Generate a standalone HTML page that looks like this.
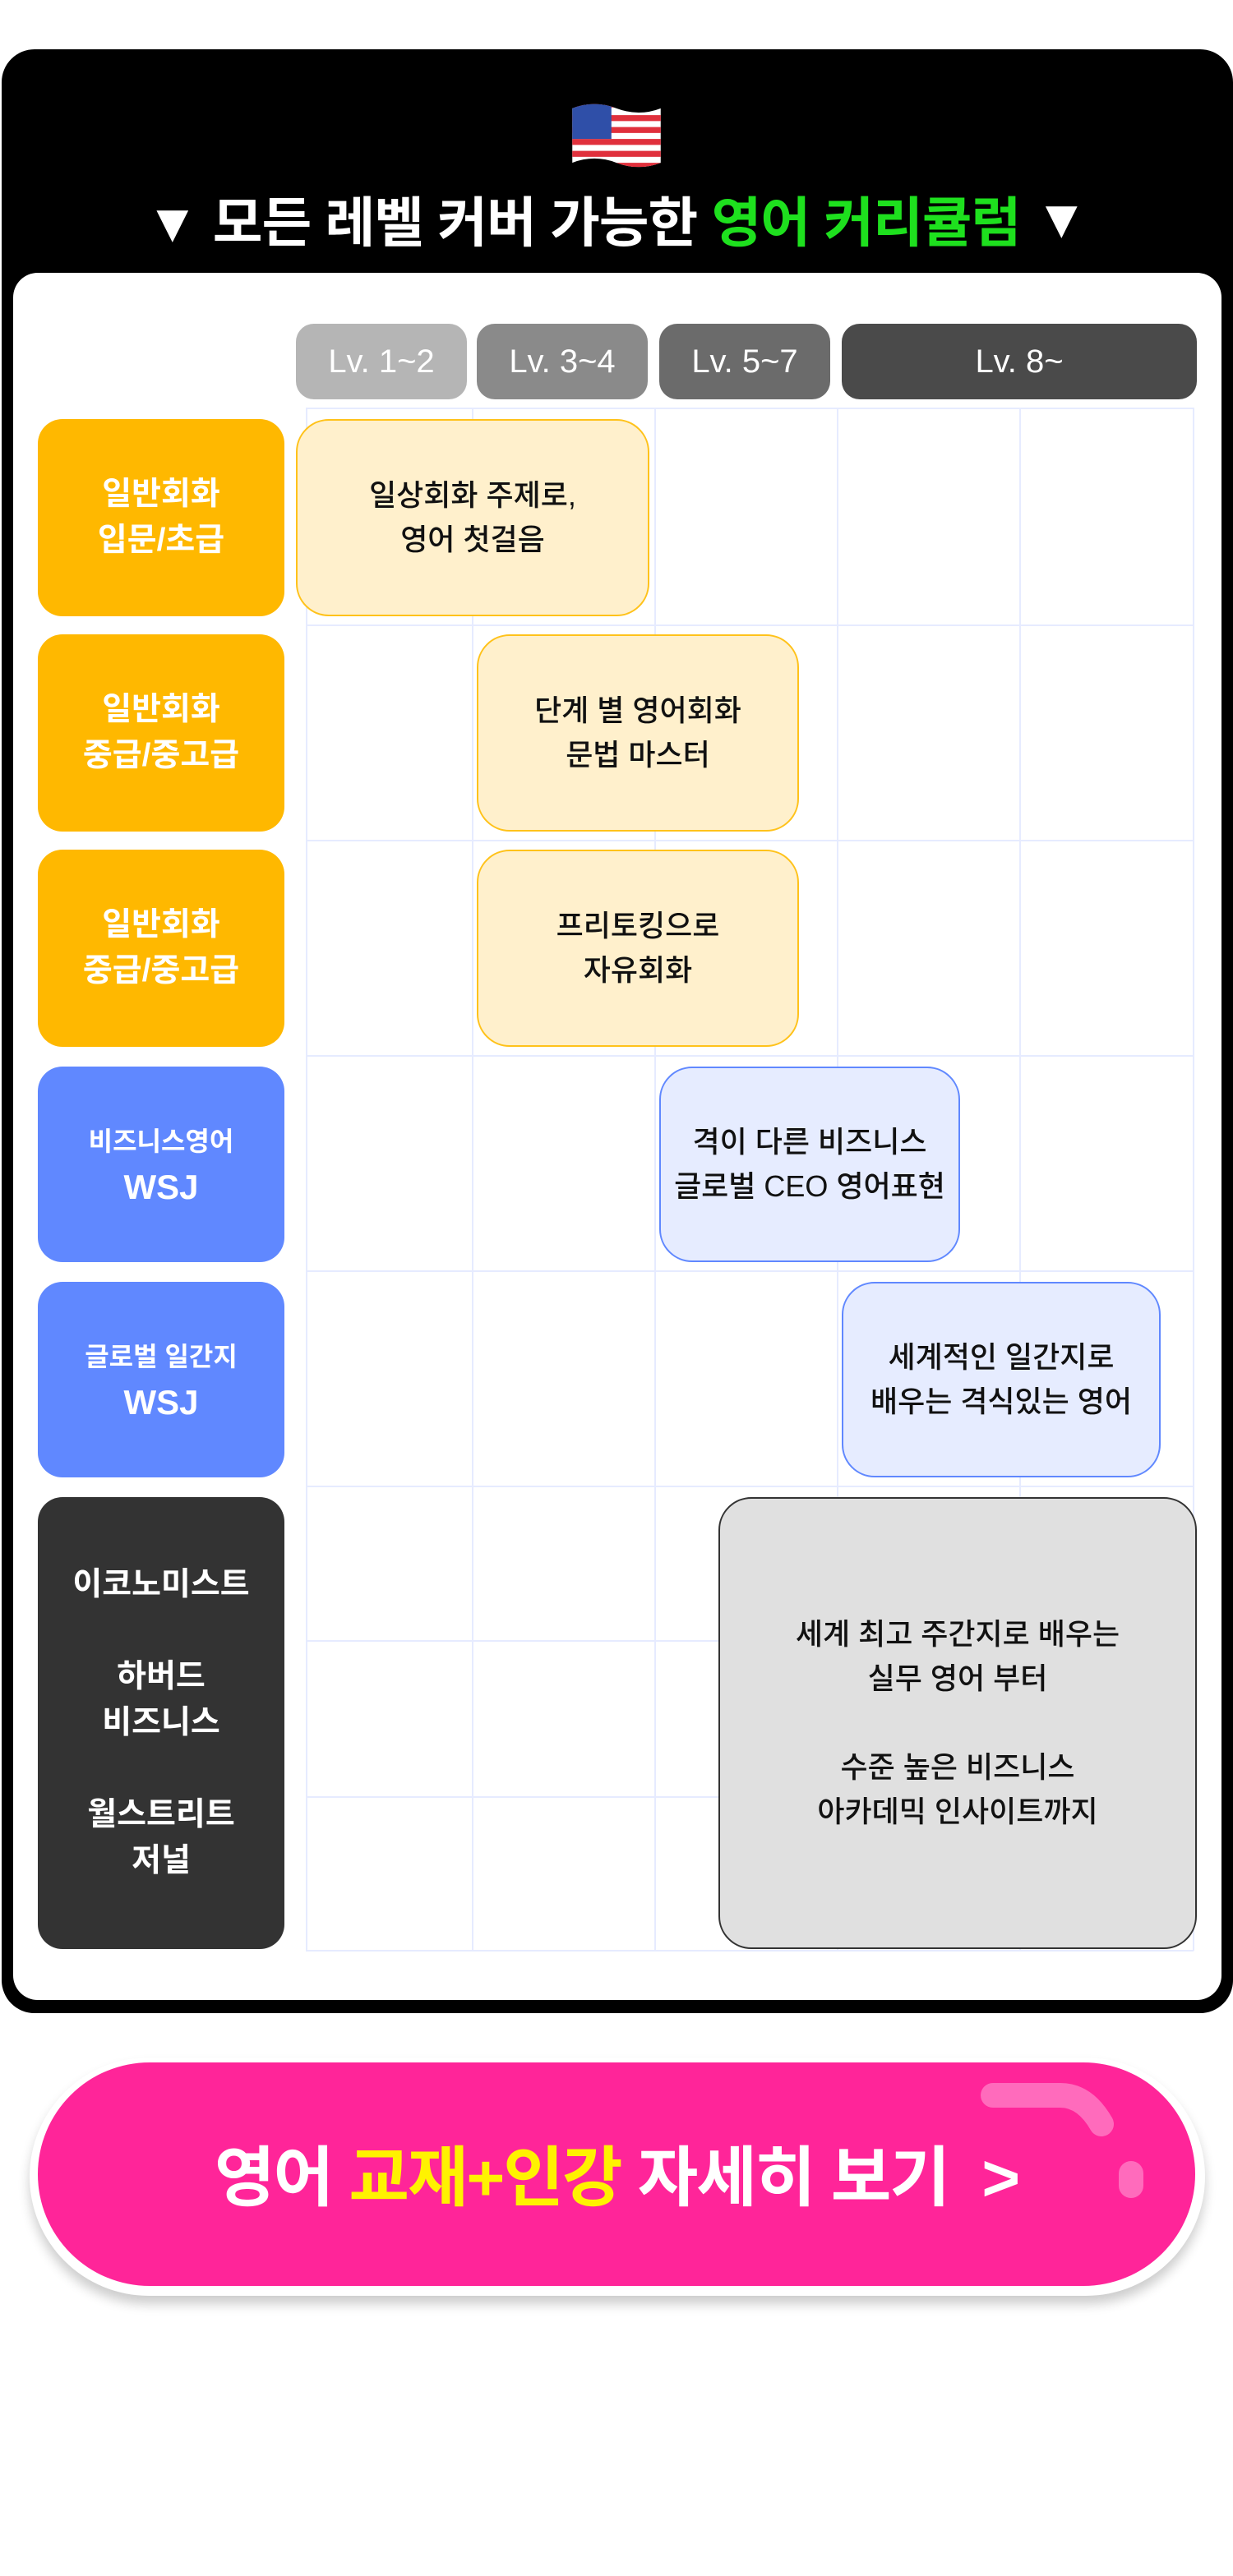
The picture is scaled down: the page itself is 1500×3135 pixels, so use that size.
<!DOCTYPE html>
<html><head><meta charset="utf-8"><style>
*{margin:0;padding:0;box-sizing:border-box}
body{width:1500px;height:3135px;background:#fff;position:relative;overflow:hidden;font-family:"Liberation Sans","Noto Sans CJK KR",sans-serif}
.a{position:absolute}
.c{display:flex;align-items:center;justify-content:center;text-align:center;flex-direction:column}
.pill{top:394px;height:92px;border-radius:22px;color:#fff;font-size:40px}
.lab{left:46px;width:300px;border-radius:30px;color:#fff;font-weight:bold;font-size:39px;line-height:56px}
.box{border-radius:40px;font-size:36px;line-height:54px;color:#111;font-weight:500}
.y{background:#FFF0CC;border:2px solid #FFC21A}
.b{background:#E6ECFF;border:2px solid #6088FF}
.vl{top:496px;height:1878px;width:2px;background:#E6EBFF}
.hl{left:372px;width:1080px;height:2px;background:#E6EBFF}
</style></head><body>
<div class="a" style="left:2px;top:60px;width:1498px;height:2390px;background:#000;border-radius:40px"></div>
<svg class="a" style="left:692px;top:120px" width="116" height="92" viewBox="0 0 112 86">
<defs><clipPath id="f"><path d="M4 10 Q30 0 56 10 T108 10 L108 74 Q82 84 56 74 T4 74 Z"/></clipPath></defs>
<g clip-path="url(#f)"><rect width="112" height="86" fill="#fff"/>
<g fill="#E0303C"><rect y="0" width="112" height="9"/><rect y="18" width="112" height="7"/><rect y="32" width="112" height="7"/><rect y="46" width="112" height="7"/><rect y="60" width="112" height="7"/><rect y="74" width="112" height="12"/></g>
<rect width="50" height="46" fill="#2F4FA8"/></g></svg>
<div class="a c" style="left:0;top:224px;width:1500px;height:84px;color:#fff;font-size:66px;font-weight:bold;letter-spacing:-1px;flex-direction:row">▼ 모든 레벨 커버 가능한&nbsp;<span style="color:#1EE01E">영어 커리큘럼</span>&nbsp;▼</div>
<div class="a" style="left:16px;top:332px;width:1470px;height:2102px;background:#fff;border-radius:30px"></div>
<div class="a c pill" style="left:360px;width:208px;background:#b5b5b5">Lv. 1~2</div>
<div class="a c pill" style="left:580px;width:208px;background:#8a8a8a">Lv. 3~4</div>
<div class="a c pill" style="left:802px;width:208px;background:#6b6b6b">Lv. 5~7</div>
<div class="a c pill" style="left:1024px;width:432px;background:#4a4a4a">Lv. 8~</div>
<div class="a vl" style="left:372px"></div><div class="a vl" style="left:574px"></div><div class="a vl" style="left:796px"></div><div class="a vl" style="left:1018px"></div><div class="a vl" style="left:1240px"></div><div class="a vl" style="left:1451px"></div>
<div class="a hl" style="top:496px"></div><div class="a hl" style="top:760px"></div><div class="a hl" style="top:1022px"></div><div class="a hl" style="top:1284px"></div><div class="a hl" style="top:1546px"></div><div class="a hl" style="top:1808px"></div><div class="a hl" style="top:1996px"></div><div class="a hl" style="top:2186px"></div><div class="a hl" style="top:2373px"></div>
<div class="a c lab" style="top:510px;height:240px;background:#FFB800">일반회화<br>입문/초급</div>
<div class="a c lab" style="top:772px;height:240px;background:#FFB800">일반회화<br>중급/중고급</div>
<div class="a c lab" style="top:1034px;height:240px;background:#FFB800">일반회화<br>중급/중고급</div>
<div class="a c lab" style="top:1298px;height:238px;background:#6088FF"><span style="font-size:32px">비즈니스영어</span><span style="font-size:42px">WSJ</span></div>
<div class="a c lab" style="top:1560px;height:238px;background:#6088FF"><span style="font-size:32px">글로벌 일간지</span><span style="font-size:42px">WSJ</span></div>
<div class="a c lab" style="top:1822px;height:550px;background:#333">이코노미스트<br><br>하버드<br>비즈니스<br><br>월스트리트<br>저널</div>
<div class="a c box y" style="left:360px;top:510px;width:430px;height:240px">일상회화 주제로,<br>영어 첫걸음</div>
<div class="a c box y" style="left:580px;top:772px;width:392px;height:240px">단계 별 영어회화<br>문법 마스터</div>
<div class="a c box y" style="left:580px;top:1034px;width:392px;height:240px">프리토킹으로<br>자유회화</div>
<div class="a c box b" style="left:802px;top:1298px;width:366px;height:238px">격이 다른 비즈니스<br>글로벌 CEO 영어표현</div>
<div class="a c box b" style="left:1024px;top:1560px;width:388px;height:238px">세계적인 일간지로<br>배우는 격식있는 영어</div>
<div class="a c box" style="left:874px;top:1822px;width:582px;height:550px;background:#E0E0E0;border:2px solid #333">세계 최고 주간지로 배우는<br>실무 영어 부터<br><br>수준 높은 비즈니스<br>아카데믹 인사이트까지</div>
<div class="a" style="left:36px;top:2504px;width:1430px;height:290px;background:#fff;border-radius:145px;box-shadow:0 10px 14px rgba(0,0,0,0.2)"></div>
<div class="a" style="left:46px;top:2510px;width:1408px;height:272px;background:#FF2599;border-radius:136px"></div>
<svg class="a" style="left:1180px;top:2530px" width="240" height="160"><path d="M28 20 H110 Q140 20 160 55" stroke="#FF6BBC" stroke-width="30" fill="none" stroke-linecap="round"/><path d="M196 115 v15" stroke="#FF6BBC" stroke-width="30" stroke-linecap="round"/></svg>
<div class="a c" style="left:46px;top:2594px;width:1408px;height:100px;color:#fff;font-size:80px;font-weight:bold;letter-spacing:-2px;flex-direction:row">영어&nbsp;<span style="color:#FFF200">교재+인강</span>&nbsp;자세히 보기 &nbsp;&gt;</div>
</body></html>
